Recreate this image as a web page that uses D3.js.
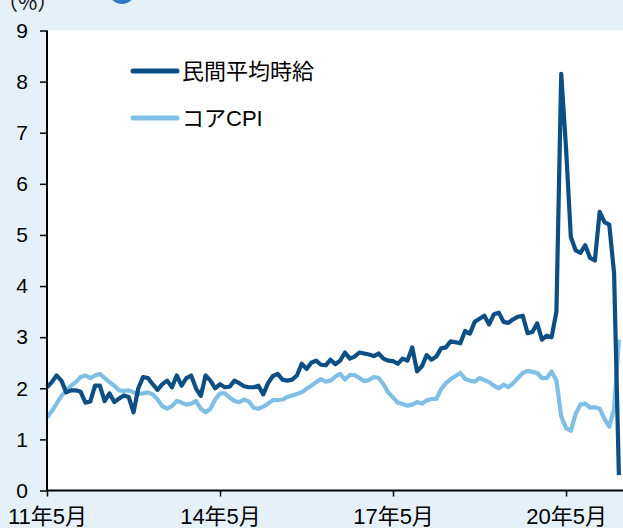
<!DOCTYPE html>
<html>
<head>
<meta charset="utf-8">
<script src="https://cdn.jsdelivr.net/npm/d3@7"></script>
<style>
  body { margin: 0; background: #e5f0f9; }
  svg { display: block; }
</style>
</head>
<body>
<div class="canvas"></div>
<script>
const seriesNames = ['民間平均時給', 'コアCPI']

// monthly, 2011-05 .. 2021-04
const wage = [
    2.02, 2.12, 2.25, 2.15, 1.92, 1.96, 1.96, 1.93, 1.72, 1.74,
    2.05, 2.05, 1.75, 1.9, 1.73, 1.8, 1.86, 1.83, 1.53, 2.0,
    2.22, 2.2, 2.08, 1.97, 2.08, 2.15, 2.02, 2.25, 2.05, 2.2,
    2.25, 2.0, 1.85, 2.25, 2.15, 2.0, 2.08, 2.02, 2.03, 2.15,
    2.1, 2.04, 2.02, 2.02, 2.05, 1.88, 2.1, 2.24, 2.28, 2.17,
    2.15, 2.17, 2.25, 2.48, 2.38, 2.5, 2.54, 2.46, 2.45, 2.56,
    2.47, 2.54, 2.7, 2.58, 2.62, 2.7, 2.68, 2.66, 2.63, 2.68,
    2.58, 2.54, 2.53, 2.48, 2.58, 2.54, 2.8, 2.33, 2.43, 2.65,
    2.56, 2.62, 2.78, 2.8, 2.92, 2.9, 2.88, 3.12, 3.07, 3.3,
    3.36, 3.42, 3.25, 3.45, 3.48, 3.3, 3.28, 3.35, 3.4, 3.42,
    3.08, 3.1, 3.27, 2.95, 3.03, 3.0, 3.5, 8.15, 6.7, 4.96,
    4.7, 4.65, 4.8, 4.55, 4.5, 5.45, 5.25, 5.2, 4.25, 0.3
]

const coreCpi = [
    1.43, 1.55, 1.7, 1.85, 1.95, 2.05, 2.12, 2.22, 2.25, 2.2,
    2.25, 2.28, 2.2, 2.12, 2.05, 1.96, 1.95, 1.96, 1.92, 1.89,
    1.9, 1.92, 1.88, 1.78, 1.65, 1.6, 1.65, 1.75, 1.72, 1.68,
    1.7, 1.75, 1.6, 1.53, 1.6, 1.78, 1.9, 1.9, 1.82, 1.75,
    1.73, 1.78, 1.74, 1.62, 1.6, 1.64, 1.7, 1.77, 1.77, 1.78,
    1.83, 1.86, 1.89, 1.92, 1.99, 2.05, 2.12, 2.18, 2.13, 2.15,
    2.23, 2.28, 2.17, 2.26, 2.26, 2.2, 2.14, 2.16, 2.22, 2.2,
    2.08, 1.92, 1.82, 1.72, 1.69, 1.66, 1.68, 1.73, 1.7, 1.76,
    1.79, 1.79, 1.98, 2.1, 2.18, 2.24, 2.3, 2.18, 2.15, 2.13,
    2.2, 2.16, 2.12, 2.05, 2.0, 2.07, 2.02, 2.1, 2.2, 2.3,
    2.34, 2.32, 2.3, 2.2, 2.2, 2.33, 2.15, 1.45, 1.22, 1.17,
    1.5, 1.68, 1.7, 1.62, 1.63, 1.6, 1.4, 1.25, 1.6, 2.95
]

const xTickIndex = [0, 36, 72, 108]
const xTickLabels = ['11年5月', '14年5月', '17年5月', '20年5月']
const yTicks = [0, 1, 2, 3, 4, 5, 6, 7, 8, 9]

const dims = { width: 623, height: 528 }
const plot = { left: 47, right: 623.7, top: 30.5, bottom: 490.5 }
const colors = ['#0b4f84', '#80bfe5']

const svg = d3.select('.canvas')
    .append('svg')
    .attr('width', dims.width)
    .attr('height', dims.height)

// header bits (cut off at the top in the original)
svg.append('circle')
    .attr('cx', 122).attr('cy', -9).attr('r', 13)
    .attr('fill', '#2b7bc4')

svg.append('text')
    .attr('x', -3).attr('y', 10)
    .attr('font-family', '"Noto Sans CJK JP", sans-serif')
    .attr('font-size', 21)
    .attr('fill', '#111')
    .text('（%）')

svg.append('rect')
    .attr('x', plot.left).attr('y', plot.top)
    .attr('width', dims.width - plot.left).attr('height', plot.bottom - plot.top)
    .attr('fill', '#fff')

const x = d3.scaleLinear()
    .domain([0, 120])
    .range([plot.left, plot.right])

const y = d3.scaleLinear()
    .domain([0, 9])
    .range([plot.bottom, plot.top])

const line = d3.line()
    .x((d, i) => x(i))
    .y(d => y(d))

const graph = svg.append('g')

graph.selectAll('path.series')
    .data([coreCpi, wage])
    .enter()
    .append('path')
        .attr('class', 'series')
        .attr('d', line)
        .attr('fill', 'none')
        .attr('stroke', (d, i) => i === 0 ? colors[1] : colors[0])
        .attr('stroke-width', 4.2)
        .attr('stroke-linejoin', 'round')

// axes
const yAxis = d3.axisLeft(y)
    .tickValues(yTicks)
    .tickSize(7)
    .tickPadding(12)

const xAxis = d3.axisBottom(x)
    .tickValues(xTickIndex)
    .tickFormat((d, i) => xTickLabels[i])
    .tickSize(6)
    .tickPadding(12)

const gy = svg.append('g')
    .attr('transform', `translate(${plot.left}, 0)`)
    .call(yAxis)

const gx = svg.append('g')
    .attr('transform', `translate(0, ${plot.bottom})`)
    .call(xAxis)

gy.select('.domain').attr('d', `M0,${plot.top}V${plot.bottom}`)
gx.select('.domain').attr('d', `M${plot.left},0H${dims.width}`)

svg.selectAll('.domain')
    .attr('stroke', '#000')
    .attr('stroke-width', 2)
svg.selectAll('.tick line')
    .attr('stroke', '#000')
    .attr('stroke-width', 1.5)

gy.selectAll('text')
    .attr('font-family', '"Liberation Sans", Arial, sans-serif')
    .attr('font-size', 21)
    .attr('fill', '#000')

gx.selectAll('text')
    .attr('font-family', '"Liberation Sans", "Noto Sans CJK JP", sans-serif')
    .attr('font-size', 22)
    .attr('fill', '#000')

// legend
const legend = svg.append('g')
    .attr('transform', 'translate(133, 71)')

seriesNames.forEach((name, i) => {
    const g = legend.append('g')
        .attr('transform', `translate(0, ${i * 47})`)
    g.append('line')
        .attr('x1', 0).attr('x2', 44)
        .attr('stroke', colors[i])
        .attr('stroke-width', 5)
        .attr('stroke-linecap', 'round')
    g.append('text')
        .attr('x', 49).attr('y', 8)
        .attr('font-family', '"Liberation Sans", "Noto Sans CJK JP", sans-serif')
        .attr('font-size', 22)
        .attr('fill', '#000')
        .text(name)
})
</script>
</body>
</html>
